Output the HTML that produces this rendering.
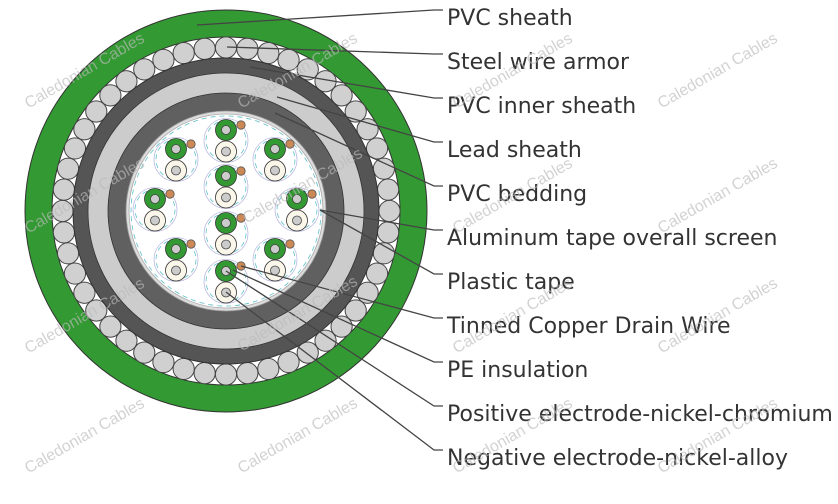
<!DOCTYPE html>
<html><head><meta charset="utf-8"><style>
html,body{margin:0;padding:0;background:#fff;}
svg{display:block;}
.lbl{font-family:"DejaVu Sans","Liberation Sans",sans-serif;font-size:22px;fill:#333;}
.wm{font-family:"Liberation Sans","DejaVu Sans",sans-serif;font-size:16px;fill:#bbb;opacity:0.65;}
</style></head><body>
<svg id="s" width="838" height="504" viewBox="0 0 838 504" xmlns="http://www.w3.org/2000/svg">
<circle cx="226" cy="211" r="201" fill="#339933" stroke="#333" stroke-width="1"/>
<circle cx="226" cy="211" r="174" fill="#fff" stroke="#333" stroke-width="1"/>
<g id="armor"></g>
<circle cx="226" cy="211" r="153" fill="#555" stroke="#333" stroke-width="1"/>
<circle cx="226" cy="211" r="138" fill="#ccc" stroke="#333" stroke-width="0.8"/>
<circle cx="226" cy="211" r="118" fill="#606060" stroke="#333" stroke-width="0.8"/>
<circle cx="226" cy="211" r="100" fill="#ddd" stroke="#999" stroke-width="0.8"/>
<circle cx="226" cy="211" r="97" fill="#fff" stroke="#aaa" stroke-width="0.8"/>
<circle cx="226" cy="211" r="95" fill="none" stroke="#5bc0c8" stroke-width="0.8" stroke-dasharray="5,4"/>
<g id="pairs"></g>
<g stroke="#444" stroke-width="1.3" fill="none">
<polyline points="197,25 434,10 443,10"/>
<polyline points="227,47 434,54 443,54"/>
<polyline points="250,67 434,98 443,98"/>
<polyline points="277,97 434,142 443,142"/>
<polyline points="275,113 434,186 443,186"/>
<polyline points="320,210 434,230 443,230"/>
<polyline points="320,210 434,274 443,274"/>
<polyline points="241,266 434,318 443,318"/>
<polyline points="233,270 434,362 443,362"/>
<polyline points="226,271 434,406 443,406"/>
<polyline points="226,292 434,450 443,450"/>
</g>
<text class="lbl" x="447" y="25">PVC sheath</text>
<text class="lbl" x="447" y="69">Steel wire armor</text>
<text class="lbl" x="447" y="113">PVC inner sheath</text>
<text class="lbl" x="447" y="157">Lead sheath</text>
<text class="lbl" x="447" y="201">PVC bedding</text>
<text class="lbl" x="447" y="245">Aluminum tape overall screen</text>
<text class="lbl" x="447" y="289">Plastic tape</text>
<text class="lbl" x="447" y="333">Tinned Copper Drain Wire</text>
<text class="lbl" x="447" y="377">PE insulation</text>
<text class="lbl" x="447" y="421">Positive electrode-nickel-chromium</text>
<text class="lbl" x="447" y="465">Negative electrode-nickel-alloy</text>
<g text-anchor="middle">
<text class="wm" transform="translate(87,75) rotate(-30)">Caledonian Cables</text>
<text class="wm" transform="translate(300,75) rotate(-30)">Caledonian Cables</text>
<text class="wm" transform="translate(515,75) rotate(-30)">Caledonian Cables</text>
<text class="wm" transform="translate(720,75) rotate(-30)">Caledonian Cables</text>
<text class="wm" transform="translate(87,200) rotate(-30)">Caledonian Cables</text>
<text class="wm" transform="translate(305,190) rotate(-30)">Caledonian Cables</text>
<text class="wm" transform="translate(515,200) rotate(-30)">Caledonian Cables</text>
<text class="wm" transform="translate(720,200) rotate(-30)">Caledonian Cables</text>
<text class="wm" transform="translate(87,320) rotate(-30)">Caledonian Cables</text>
<text class="wm" transform="translate(300,318) rotate(-30)">Caledonian Cables</text>
<text class="wm" transform="translate(515,320) rotate(-30)">Caledonian Cables</text>
<text class="wm" transform="translate(720,320) rotate(-30)">Caledonian Cables</text>
<text class="wm" transform="translate(87,440) rotate(-30)">Caledonian Cables</text>
<text class="wm" transform="translate(300,440) rotate(-30)">Caledonian Cables</text>
<text class="wm" transform="translate(515,440) rotate(-30)">Caledonian Cables</text>
<text class="wm" transform="translate(720,440) rotate(-30)">Caledonian Cables</text>
</g>
</svg>
<script>
var NS="http://www.w3.org/2000/svg";
function c(g,x,y,r,f,s,w,d){var e=document.createElementNS(NS,"circle");e.setAttribute("cx",x);e.setAttribute("cy",y);e.setAttribute("r",r);e.setAttribute("fill",f);e.setAttribute("stroke",s);e.setAttribute("stroke-width",w);if(d)e.setAttribute("stroke-dasharray",d);g.appendChild(e);}
var a=document.getElementById("armor");
var N=48;for(var i=0;i<N;i++){var t=i*2*Math.PI/N;c(a,226+163.5*Math.cos(t),211+163.5*Math.sin(t),10.6,"#d0d0d0","#444",1);}
var p=document.getElementById("pairs");
var P=[[226,130],[176,149],[275,149],[226,176],[155,199],[297,199],[226,223],[176,249],[275,249],[226,271]];
P.forEach(function(q){var x=q[0],y=q[1];
c(p,x,y+10.5,22,"none","#aad","0.6");
c(p,x,y+10.5,20,"none","#5bc0c8","0.8","5,4");
c(p,x+15,y-5,4.2,"#cc8855","#555",0.8);
c(p,x,y,10.5,"#339933","#333",0.8);
c(p,x,y,4.5,"#ccc","#444",0.8);
c(p,x,y+21.5,10.5,"#fbf6ea","#333",0.8);
c(p,x,y+21.5,4.5,"#ccc","#444",0.8);
});
</script>
</body></html>
